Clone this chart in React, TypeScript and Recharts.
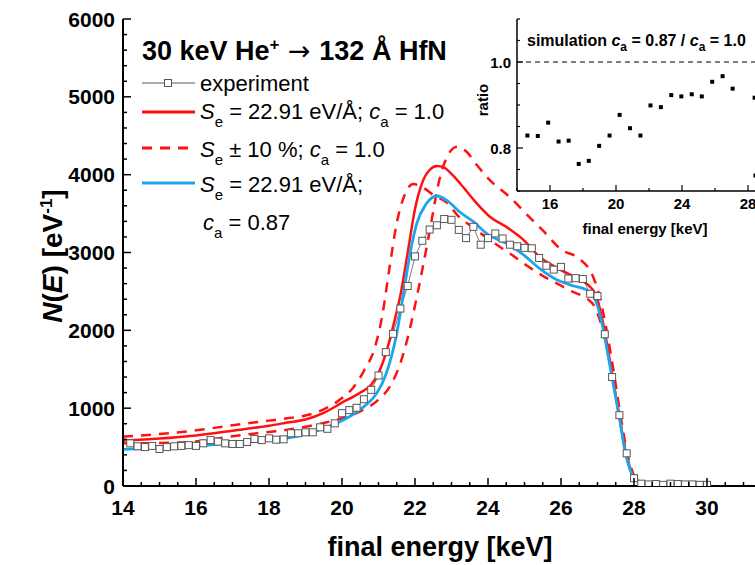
import React from 'react';
import { ComposedChart, Line, Scatter, XAxis, YAxis, ReferenceLine } from 'recharts';

const FONT = '"Liberation Sans", Arial, Helvetica, sans-serif';
const RED = '#ff1111';
const BLUE = '#1ca6ec';
const GREY = '#585858';

// experiment (squares)
const expEnergy = [
  14.2, 14.4, 14.6, 14.8, 15.0, 15.2, 15.4, 15.6, 15.8, 16.0,
  16.2, 16.4, 16.6, 16.8, 17.0, 17.2, 17.4, 17.6, 17.8, 18.0,
  18.2, 18.4, 18.6, 18.8, 19.0, 19.2, 19.4, 19.6, 19.8, 20.0,
  20.2, 20.4, 20.6, 20.8, 21.0, 21.2, 21.4, 21.6, 21.8, 22.0,
  22.2, 22.4, 22.6, 22.8, 23.0, 23.2, 23.4, 23.6, 23.8, 24.0,
  24.2, 24.4, 24.6, 24.8, 25.0, 25.2, 25.4, 25.6, 25.8, 26.0,
  26.2, 26.4, 26.6, 26.8, 27.0, 27.2, 27.4, 27.6, 27.8, 28.0,
  28.2, 28.4, 28.6, 28.8, 29.0, 29.2, 29.4, 29.6, 29.8, 30.0,
];
const expCounts = [
  548, 510, 500, 515, 475, 500, 510, 515, 525, 515,
  548, 590, 570, 548, 540, 540, 565, 605, 590, 612,
  595, 600, 677, 677, 690, 690, 754, 735, 805, 935,
  975, 1005, 1115, 1235, 1420, 1720, 1955, 2280, 2570, 2950,
  3150, 3295, 3350, 3430, 3420, 3290, 3185, 3330, 3100, 3185,
  3245, 3180, 3100, 3080, 3060, 3055, 2930, 2830, 2780, 2815,
  2665, 2670, 2660, 2470, 2440, 1950, 1400, 910, 420, 100,
  30, 20, 25, 15, 30, 25, 20, 20, 15, 15,
];

// Se = 22.91 eV/A, ca = 1.0
const redEnergy = [
  14.0, 15.0, 16.0, 17.0, 18.0, 18.5, 19.0, 19.5, 20.0, 20.5, 20.8, 21.0, 21.2, 21.4,
  21.6, 21.8, 22.0, 22.2, 22.4, 22.6, 22.8, 23.0, 23.25, 23.6, 24.05, 24.5, 25.0,
  25.4, 25.9, 26.35, 26.7, 26.95, 27.15, 27.3, 27.45, 27.6, 27.75, 27.9, 28.1, 28.4,
  29.0, 30.0,
];
const redCounts = [
  585, 610, 650, 710, 775, 815, 855, 940, 1070, 1200, 1300, 1450, 1700, 2050,
  2450, 3000, 3560, 3900, 4060, 4110, 4090, 4010, 3880, 3680, 3460, 3330, 3150,
  2950, 2800, 2690, 2600, 2460, 2100, 1720, 1300, 900, 480, 210, 70, 25,
  10, 5,
];

// Se +/- 10 %, ca = 1.0 (left-shifted branch)
const dashAEnergy = [
  14.0, 15.0, 16.0, 17.0, 18.0, 18.5, 19.0, 19.5, 20.0, 20.3, 20.6, 20.9, 21.1, 21.3,
  21.5, 21.7, 21.95, 22.2, 22.5, 22.87, 23.2, 23.6, 24.05, 24.65, 25.1, 25.5, 25.9,
  26.3, 26.7, 26.9, 27.1, 27.3, 27.5, 27.7, 27.9, 28.1, 28.4, 29.0, 30.0,
];
const dashACounts = [
  635, 668, 715, 780, 840, 870, 905, 985, 1130, 1260, 1480, 1780, 2180, 2800,
  3380, 3720, 3880, 3840, 3740, 3640, 3460, 3320, 3160, 2970, 2820, 2700, 2600,
  2500, 2410, 2320, 2080, 1680, 1150, 620, 210, 65, 20, 8, 5,
];

// Se +/- 10 %, ca = 1.0 (right-shifted branch)
const dashBEnergy = [
  14.0, 15.0, 16.0, 17.0, 18.0, 18.5, 19.0, 19.5, 20.0, 20.5, 21.0, 21.3, 21.6, 21.85,
  22.05, 22.25, 22.45, 22.65, 22.85, 23.15, 23.4, 23.7, 24.05, 24.6, 25.08, 25.53,
  26.0, 26.5, 26.85, 27.05, 27.25, 27.45, 27.65, 27.85, 28.05, 28.3, 29.0, 30.0,
];
const dashBCounts = [
  548, 552, 572, 640, 695, 722, 760, 810, 870, 960, 1110, 1270, 1580, 2000,
  2430, 2900, 3400, 3900, 4200, 4360, 4300, 4120, 3930, 3710, 3480, 3270,
  3040, 2920, 2720, 2450, 2000, 1450, 850, 350, 100, 30, 8, 5,
];

// Se = 22.91 eV/A, ca = 0.87
const blueEnergy = [
  14.0, 15.0, 16.0, 17.0, 18.0, 18.5, 19.0, 19.5, 19.85, 20.2, 20.6, 20.95, 21.2, 21.5,
  21.7, 21.9, 22.05, 22.3, 22.6, 22.9, 23.2, 23.6, 24.0, 24.5, 25.0, 25.4, 25.9,
  26.35, 26.7, 26.95, 27.15, 27.3, 27.45, 27.6, 27.75, 27.9, 28.1, 28.4, 29.0, 30.0,
];
const blueCounts = [
  470, 490, 515, 550, 590, 615, 665, 740, 805, 890, 1020, 1190, 1430, 1960,
  2520, 3075, 3375, 3620, 3726, 3660, 3530, 3396, 3230, 3118, 2960, 2800, 2647,
  2570, 2520, 2380, 2030, 1650, 1260, 880, 460, 200, 65, 22, 8, 5,
];

// inset: ratio ca = 0.87 / ca = 1.0
const ratioEnergy = [
  14.63, 15.26, 15.89, 16.52, 17.13, 17.74, 18.35, 18.98, 19.61, 20.22, 20.85, 21.48,
  22.09, 22.72, 23.35, 23.96, 24.59, 25.2, 25.83, 26.46, 27.07, 28.4, 28.45,
];
const ratioValues = [
  0.829, 0.828, 0.859, 0.815, 0.817, 0.763, 0.770, 0.805, 0.829, 0.877, 0.846, 0.829,
  0.899, 0.895, 0.923, 0.920, 0.925, 0.920, 0.954, 0.967, 0.938, 0.917, 0.736,
];

// axis ticks
const xLabels = [14, 16, 18, 20, 22, 24, 26, 28, 30, 32];
const yLabels = [0, 1000, 2000, 3000, 4000, 5000, 6000];
const insetXLabels = [16, 20, 24, 28];
const insetYLabels = [0.8, 1.0];

const xTicks = Array.from({ length: 37 }, (_, i) => 14 + i * 0.5);
const yTicks = Array.from({ length: 31 }, (_, i) => i * 200);
const insetXTicks = Array.from({ length: 9 }, (_, i) => 14 + i * 2);
const insetYTicks = Array.from({ length: 9 }, (_, i) => Math.round((0.7 + i * 0.05) * 100) / 100);

const zip = (e: number[], n: number[]) => e.map((v, i) => ({ e: v, n: n[i] }));
const expData = zip(expEnergy, expCounts);
const redData = zip(redEnergy, redCounts);
const dashAData = zip(dashAEnergy, dashACounts);
const dashBData = zip(dashBEnergy, dashBCounts);
const blueData = zip(blueEnergy, blueCounts);
const ratioData = ratioEnergy.map((v, i) => ({ e: v, r: ratioValues[i] }));

const has = (list: number[], v: number) => list.some((l) => Math.abs(l - v) < 1e-6);

function BottomTick(props: any) {
  const { x, y, payload } = props;
  const major = has(xLabels, payload.value);
  return (
    <g>
      <line x1={x} y1={y} x2={x} y2={y - (major ? 8 : 4)} stroke="#000" strokeWidth={1.5} />
      {major && (
        <text x={x} y={y + 29} textAnchor="middle" fontFamily={FONT} fontWeight="bold" fontSize={21} fill="#000">
          {payload.value}
        </text>
      )}
    </g>
  );
}

function TopTick(props: any) {
  const { x, y, payload } = props;
  const major = has(xLabels, payload.value);
  return <line x1={x} y1={y} x2={x} y2={y + (major ? 8 : 4)} stroke="#000" strokeWidth={1.5} />;
}

function LeftTick(props: any) {
  const { x, y, payload } = props;
  const major = has(yLabels, payload.value);
  return (
    <g>
      <line x1={x} y1={y} x2={x + (major ? 8 : 4)} y2={y} stroke="#000" strokeWidth={1.5} />
      {major && (
        <text x={x - 8} y={y + 7.5} textAnchor="end" fontFamily={FONT} fontWeight="bold" fontSize={21} fill="#000">
          {payload.value}
        </text>
      )}
    </g>
  );
}

function InsetBottomTick(props: any) {
  const { x, y, payload } = props;
  const major = has(insetXLabels, payload.value);
  return (
    <g>
      <line x1={x} y1={y} x2={x} y2={y - (major ? 6 : 3)} stroke="#000" strokeWidth={1.2} />
      {major && (
        <text x={x} y={y + 18} textAnchor="middle" fontFamily={FONT} fontWeight="bold" fontSize={15} fill="#000">
          {payload.value}
        </text>
      )}
    </g>
  );
}

function InsetTopTick(props: any) {
  const { x, y, payload } = props;
  const major = has(insetXLabels, payload.value);
  return <line x1={x} y1={y} x2={x} y2={y + (major ? 6 : 3)} stroke="#000" strokeWidth={1.2} />;
}

function InsetLeftTick(props: any) {
  const { x, y, payload } = props;
  const major = has(insetYLabels, payload.value);
  return (
    <g>
      <line x1={x} y1={y} x2={x + (major ? 6 : 3)} y2={y} stroke="#000" strokeWidth={1.2} />
      {major && (
        <text x={x - 6} y={y + 5.5} textAnchor="end" fontFamily={FONT} fontWeight="bold" fontSize={15} fill="#000">
          {payload.value.toFixed(1)}
        </text>
      )}
    </g>
  );
}

function ExpDot(props: any) {
  const { cx, cy, index } = props;
  if (cx == null || cy == null) return <g key={index} />;
  return (
    <rect key={index} x={cx - 3.5} y={cy - 3.5} width={7} height={7} fill="#fff" stroke={GREY} strokeWidth={1} />
  );
}

function RatioDot(props: any) {
  const { cx, cy } = props;
  return <rect x={cx - 2} y={cy - 2} width={4} height={4} fill="#000" />;
}

function Overlay() {
  const txt = { fontFamily: FONT, fill: '#000', style: { whiteSpace: 'pre' as const } };
  return (
    <svg width={755} height={565} style={{ position: 'absolute', left: 0, top: 0, pointerEvents: 'none' }}>
      {/* title */}
      <text x={142} y={60} fontSize={27} fontWeight="bold" {...txt}>
        <tspan>30 keV He</tspan>
        <tspan dy={-10} fontSize={17}>+</tspan>
        <tspan dy={10} fontWeight="normal" fontFamily='"DejaVu Sans", sans-serif'>{' → '}</tspan>
        <tspan>132 Å HfN</tspan>
      </text>

      {/* legend */}
      <line x1={142} y1={83} x2={195} y2={83} stroke={GREY} strokeWidth={1} />
      <rect x={164.5} y={79.5} width={7} height={7} fill="#fff" stroke={GREY} strokeWidth={1} />
      <text x={200} y={91} fontSize={22} {...txt}>experiment</text>

      <line x1={142} y1={112} x2={195} y2={112} stroke={RED} strokeWidth={3} />
      <text x={200} y={119} fontSize={22} {...txt}>
        <tspan fontStyle="italic">S</tspan>
        <tspan dy={8} fontSize={15}>e</tspan>
        <tspan dy={-8}>{' = 22.91 eV/Å; '}</tspan>
        <tspan fontStyle="italic">c</tspan>
        <tspan dy={8} fontSize={15}>a</tspan>
        <tspan dy={-8}>{' = 1.0'}</tspan>
      </text>

      <line x1={142} y1={148} x2={195} y2={148} stroke={RED} strokeWidth={3} strokeDasharray="10 8" />
      <text x={200} y={157} fontSize={22} {...txt}>
        <tspan fontStyle="italic">S</tspan>
        <tspan dy={8} fontSize={15}>e</tspan>
        <tspan dy={-8}>{' ± 10 %; '}</tspan>
        <tspan fontStyle="italic">c</tspan>
        <tspan dy={8} fontSize={15}>a</tspan>
        <tspan dy={-8}>{' = 1.0'}</tspan>
      </text>

      <line x1={142} y1={183} x2={195} y2={183} stroke={BLUE} strokeWidth={3} />
      <text x={200} y={192} fontSize={22} {...txt}>
        <tspan fontStyle="italic">S</tspan>
        <tspan dy={8} fontSize={15}>e</tspan>
        <tspan dy={-8}>{' = 22.91 eV/Å;'}</tspan>
      </text>
      <text x={203} y={230} fontSize={22} {...txt}>
        <tspan fontStyle="italic">c</tspan>
        <tspan dy={8} fontSize={15}>a</tspan>
        <tspan dy={-8}>{' = 0.87'}</tspan>
      </text>

      {/* axis titles */}
      <text x={440} y={556} textAnchor="middle" fontSize={27} fontWeight="bold" {...txt}>
        final energy [keV]
      </text>
      <text x={62} y={256} textAnchor="middle" fontSize={28} fontWeight="bold" transform="rotate(-90 62 256)" {...txt}>
        <tspan fontStyle="italic">N</tspan>
        <tspan>(</tspan>
        <tspan fontStyle="italic">E</tspan>
        <tspan>{') [eV'}</tspan>
        <tspan dy={-10} fontSize={17}>-1</tspan>
        <tspan dy={10}>]</tspan>
      </text>

      {/* inset texts */}
      <text x={527} y={46} fontSize={16} fontWeight="bold" {...txt}>
        <tspan>{'simulation '}</tspan>
        <tspan fontStyle="italic">c</tspan>
        <tspan dy={5} fontSize={12}>a</tspan>
        <tspan dy={-5}>{' = 0.87 / '}</tspan>
        <tspan fontStyle="italic">c</tspan>
        <tspan dy={5} fontSize={12}>a</tspan>
        <tspan dy={-5}>{' = 1.0'}</tspan>
      </text>
      <text x={488} y={100} textAnchor="middle" fontSize={15} fontWeight="bold" transform="rotate(-90 488 100)" {...txt}>
        ratio
      </text>
      <text x={645} y={234} textAnchor="middle" fontSize={15} fontWeight="bold" {...txt}>
        final energy [keV]
      </text>
    </svg>
  );
}

export default function App() {
  const axisLine = { stroke: '#000', strokeWidth: 2 };
  const insetAxisLine = { stroke: '#000', strokeWidth: 1.5 };
  return (
    <div style={{ position: 'absolute', left: 0, top: 0, width: 755, height: 565, overflow: 'hidden', background: '#fff' }}>
      <div style={{ position: 'absolute', left: 0, top: 0 }}>
        <ComposedChart width={782} height={565} margin={{ top: 19, right: 2, bottom: 0, left: 0 }}>
          <XAxis
            type="number"
            dataKey="e"
            domain={[14, 32]}
            ticks={xTicks}
            interval={0}
            height={79}
            tickSize={0}
            tickMargin={0}
            tickLine={false}
            axisLine={axisLine}
            tick={BottomTick}
            allowDataOverflow
          />
          <XAxis
            xAxisId="top"
            orientation="top"
            type="number"
            domain={[14, 32]}
            ticks={xTicks}
            interval={0}
            height={0}
            tickSize={0}
            tickMargin={0}
            tickLine={false}
            axisLine={axisLine}
            tick={TopTick}
            allowDataOverflow
          />
          <YAxis
            type="number"
            domain={[0, 6000]}
            ticks={yTicks}
            interval={0}
            width={123}
            tickSize={0}
            tickMargin={0}
            tickLine={false}
            axisLine={axisLine}
            tick={LeftTick}
            allowDataOverflow
          />

          {/* experiment - grey squares */}
          <Line data={expData} dataKey="n" type="linear" stroke={GREY} strokeWidth={0.8} dot={ExpDot} activeDot={false} isAnimationActive={false} />

          {/* Se +/- 10 % - red dashed */}
          <Line data={dashAData} dataKey="n" type="monotone" stroke={RED} strokeWidth={2.5} strokeDasharray="10 8" dot={false} activeDot={false} isAnimationActive={false} />
          <Line data={dashBData} dataKey="n" type="monotone" stroke={RED} strokeWidth={2.5} strokeDasharray="10 8" dot={false} activeDot={false} isAnimationActive={false} />

          {/* ca = 1.0 - red solid */}
          <Line data={redData} dataKey="n" type="monotone" stroke={RED} strokeWidth={2.5} dot={false} activeDot={false} isAnimationActive={false} />

          {/* ca = 0.87 - blue solid */}
          <Line data={blueData} dataKey="n" type="monotone" stroke={BLUE} strokeWidth={2.8} dot={false} activeDot={false} isAnimationActive={false} />
        </ComposedChart>
      </div>

      {/* inset background */}
      <div style={{ position: 'absolute', left: 517, top: 19, width: 264, height: 172, background: '#fff' }} />

      <div style={{ position: 'absolute', left: 0, top: 0 }}>
        <ComposedChart width={782} height={250} margin={{ top: 19, right: 1, bottom: 0, left: 0 }}>
          <XAxis
            type="number"
            dataKey="e"
            domain={[14, 30]}
            ticks={insetXTicks}
            interval={0}
            height={59}
            tickSize={0}
            tickMargin={0}
            tickLine={false}
            axisLine={insetAxisLine}
            tick={InsetBottomTick}
            allowDataOverflow
          />
          <XAxis
            xAxisId="top"
            orientation="top"
            type="number"
            domain={[14, 30]}
            ticks={insetXTicks}
            interval={0}
            height={0}
            tickSize={0}
            tickMargin={0}
            tickLine={false}
            axisLine={insetAxisLine}
            tick={InsetTopTick}
            allowDataOverflow
          />
          <YAxis
            type="number"
            domain={[0.7, 1.1]}
            ticks={insetYTicks}
            interval={0}
            width={517}
            tickSize={0}
            tickMargin={0}
            tickLine={false}
            axisLine={insetAxisLine}
            tick={InsetLeftTick}
            allowDataOverflow
          />
          <ReferenceLine y={1} stroke="#000" strokeWidth={1} strokeDasharray="5 4" />
          <Scatter data={ratioData} dataKey="r" shape={RatioDot} isAnimationActive={false} />
        </ComposedChart>
      </div>

      <Overlay />
    </div>
  );
}
